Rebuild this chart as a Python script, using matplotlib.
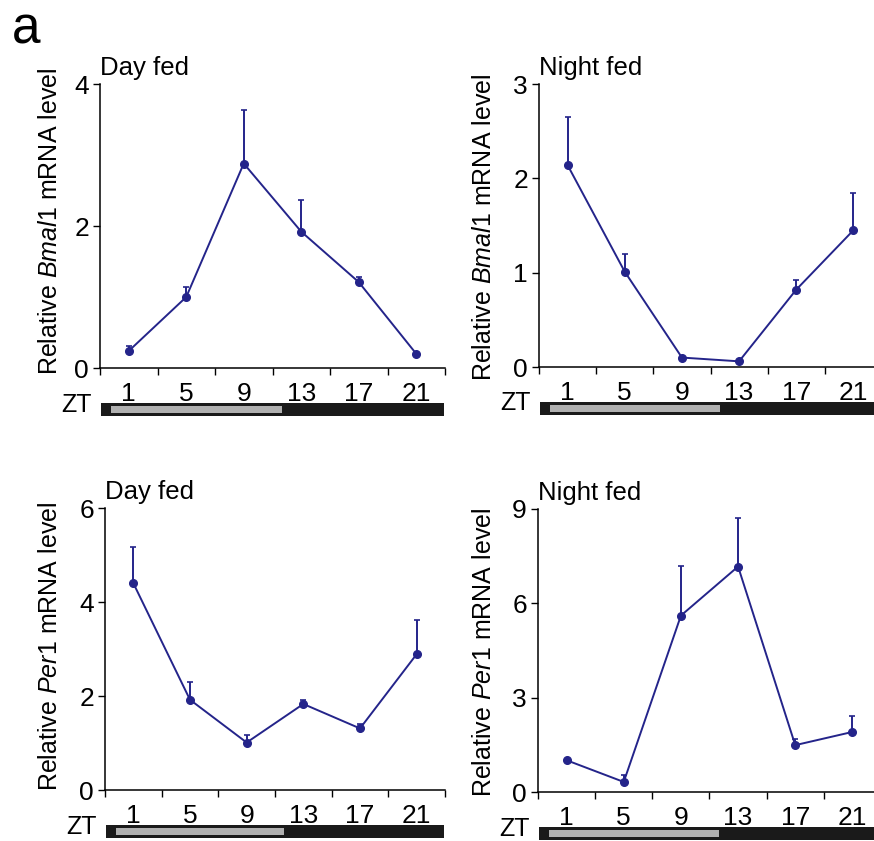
import matplotlib
matplotlib.use("Agg")
import matplotlib.pyplot as plt
from matplotlib.patches import Rectangle

plt.rcParams['font.family'] = ['Liberation Sans', 'DejaVu Sans']
plt.rcParams['mathtext.fontset'] = 'custom'
plt.rcParams['mathtext.rm'] = 'Liberation Sans'
plt.rcParams['mathtext.it'] = 'Liberation Sans:italic'

zt = [1, 5, 9, 13, 17, 21]
zt_labels = ["1", "5", "9", "13", "17", "21"]

bmal1_day = [0.24, 1.00, 2.88, 1.92, 1.21, 0.20]
bmal1_day_err = [0.07, 0.14, 0.76, 0.45, 0.07, 0.0]
bmal1_night = [2.14, 1.01, 0.10, 0.06, 0.82, 1.45]
bmal1_night_err = [0.51, 0.19, 0.0, 0.0, 0.10, 0.39]
per1_day = [4.40, 1.92, 1.01, 1.83, 1.31, 2.89]
per1_day_err = [0.76, 0.37, 0.16, 0.09, 0.10, 0.73]
per1_night = [1.01, 0.32, 5.61, 7.17, 1.49, 1.91]
per1_night_err = [0.0, 0.21, 1.58, 1.54, 0.18, 0.50]

panels = [
    # values, errs, title, gene, ymax, yticks, rect px (left, right, bottom, top), ylabel anchor x px, ylabel center y px
    (bmal1_day, bmal1_day_err, "Day fed", "Bmal1", 4, [0, 2, 4], (100, 445, 368, 84), 62, 221),
    (bmal1_night, bmal1_night_err, "Night fed", "Bmal1", 3, [0, 1, 2, 3], (539, 882, 367, 84), 496, 227),
    (per1_day, per1_day_err, "Day fed", "Per1", 6, [0, 2, 4, 6], (105, 445, 790, 508), 62, 646),
    (per1_night, per1_night_err, "Night fed", "Per1", 9, [0, 3, 6, 9], (538, 881, 792, 509), 496, 652),
]

W, H = 874, 841
fig = plt.figure(figsize=(W / 100, H / 100), dpi=100)
color = "#24248a"

for vals, errs, title, gene, ymax, yt, (l, r, b, t), lx, ly in panels:
    ax = fig.add_axes([l / W, 1 - b / H, (r - l) / W, (b - t) / H])
    ax.errorbar(zt, vals, yerr=[[0] * len(errs), errs], color=color, lw=1.4,
                marker='o', ms=5.5, capsize=2.5, elinewidth=1.4, capthick=1.2)
    ax.set_xlim(-1, 23)
    ax.set_ylim(0, ymax)
    ax.set_yticks(yt)
    ax.set_xticks(list(range(-1, 24, 4)))
    ax.set_xticklabels([])
    ax.set_xticks(zt, minor=True)
    ax.set_xticklabels(zt_labels, minor=True)
    ax.tick_params(axis='x', which='minor', length=0, pad=10, labelsize=19)
    ax.tick_params(axis='x', which='major', length=5, width=1)
    ax.tick_params(axis='y', length=5, width=1, pad=3, labelsize=19)
    for s in ['top', 'right']:
        ax.spines[s].set_visible(False)
    for s in ['left', 'bottom']:
        ax.spines[s].set_linewidth(1.1)
    ax.set_ylabel(r"Relative $\it{%s}$ mRNA level" % gene, fontsize=18)
    ax.yaxis.set_label_coords((lx - l) / (r - l), (b - ly) / (b - t))
    ax.text(0, 1 + 9 / (b - t), title, transform=ax.transAxes, ha='left',
            va='baseline', fontsize=18.5)

    # ZT light/dark bar
    bar_top = b + 35
    bar_h = 13
    bax = fig.add_axes([l / W, 1 - (bar_top + bar_h) / H, (r - l) / W, bar_h / H])
    bax.set_xlim(-1, 23)
    bax.set_ylim(0, 1)
    bax.axis('off')
    bax.add_patch(Rectangle((-0.9, 0), 23.8, 1, facecolor='#1a1a1a', edgecolor='none'))
    bax.add_patch(Rectangle((-0.25, 0.2), 11.9, 0.6, facecolor='#b0b0b0', edgecolor='none'))
    fig.text((l - 8) / W, 1 - (bar_top + bar_h / 2 - 5) / H, "ZT", ha='right',
             va='center', fontsize=18)

fig.text(12 / W, 1 - 44 / H, "a", fontsize=37, ha='left', va='baseline')

fig.savefig("out.png", dpi=100)
